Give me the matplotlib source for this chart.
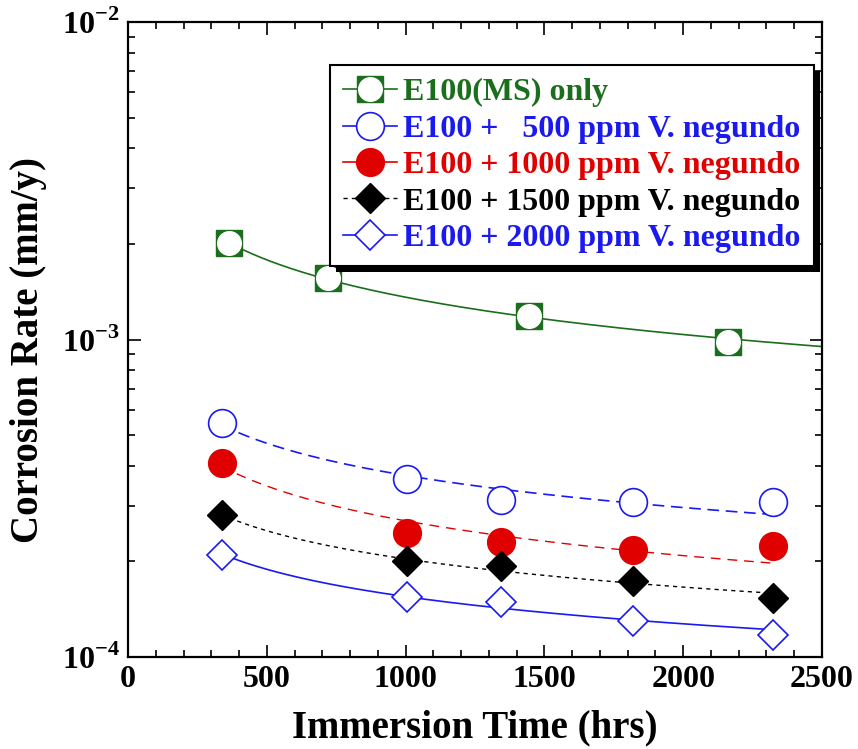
import numpy as np
import matplotlib
matplotlib.use("Agg")
import matplotlib.pyplot as plt
from matplotlib.ticker import MultipleLocator, LogLocator, NullFormatter, FixedLocator
from matplotlib.patches import Rectangle
from matplotlib.lines import Line2D

plt.rcParams['font.family'] = ['Liberation Serif', 'DejaVu Serif']
plt.rcParams['font.weight'] = 'bold'
plt.rcParams['mathtext.fontset'] = 'custom'
plt.rcParams['mathtext.rm'] = 'Liberation Serif:bold'
plt.rcParams['mathtext.bf'] = 'Liberation Serif:bold'

# data
x_ms = [363, 722, 1443, 2163]
y_ms = [2.01e-3, 1.56e-3, 1.19e-3, 0.985e-3]

x_inh = [338, 1005, 1342, 1820, 2325]
y_500 = [5.45e-4, 3.63e-4, 3.12e-4, 3.08e-4, 3.08e-4]
y_1000 = [4.07e-4, 2.45e-4, 2.31e-4, 2.17e-4, 2.23e-4]
y_1500 = [2.80e-4, 2.00e-4, 1.94e-4, 1.73e-4, 1.53e-4]
y_2000 = [2.10e-4, 1.55e-4, 1.49e-4, 1.30e-4, 1.17e-4]

labels = ["E100(MS) only",
          "E100 +   500 ppm V. negundo",
          "E100 + 1000 ppm V. negundo",
          "E100 + 1500 ppm V. negundo",
          "E100 + 2000 ppm V. negundo"]

green = "#1b6e1b"
blue = "#1a1aee"
red = "#e00000"

def powfit(x, y, x0, x1):
    # power law fit y = a*x^b, least squares on y itself (Gauss-Newton)
    x = np.asarray(x, float)
    y = np.asarray(y, float)
    b, la = np.polyfit(np.log(x), np.log(y), 1)
    a = np.exp(la)
    for _ in range(50):
        f = a * x ** b
        J = np.column_stack([x ** b, a * x ** b * np.log(x)])
        step = np.linalg.lstsq(J, y - f, rcond=None)[0]
        a += step[0]
        b += step[1]
    xx = np.linspace(x0, x1, 200)
    return xx, a * xx ** b

fig = plt.figure(figsize=(8.58, 7.49), dpi=100)
ax = fig.add_axes([0.1492, 0.1228, 0.8088, 0.8478])

# fits
xx, yy = powfit(x_ms, y_ms, x_ms[0], 2500)
ax.plot(xx, yy, color=green, lw=1.2, zorder=2)
xx, yy = powfit(x_inh, y_500, x_inh[0], x_inh[-1])
ax.plot(xx, yy, color=blue, lw=1.2, dashes=(7, 4), zorder=2)
xx, yy = powfit(x_inh, y_1000, x_inh[0], x_inh[-1])
ax.plot(xx, yy, color=red, lw=1.0, dashes=(7, 5), zorder=2)
xx, yy = powfit(x_inh, y_1500, x_inh[0], x_inh[-1])
ax.plot(xx, yy, color="black", lw=1.0, dashes=(3, 3), zorder=2)
xx, yy = powfit(x_inh, y_2000, x_inh[0], x_inh[-1])
ax.plot(xx, yy, color=blue, lw=1.2, zorder=2)

# markers
ax.plot(x_ms, y_ms, linestyle="none", marker="s", ms=19, mfc=green, mec=green, zorder=3)
ax.plot(x_ms, y_ms, linestyle="none", marker="o", ms=17, mfc="white", mec="white", zorder=4)
ax.plot(x_inh, y_500, linestyle="none", marker="o", ms=20, mfc="white", mec=blue,
        mew=1.2, zorder=3)
ax.plot(x_inh, y_1000, linestyle="none", marker="o", ms=20, mfc=red, mec=red, zorder=3)
ax.plot(x_inh, y_1500, linestyle="none", marker="D", ms=15, mfc="black", mec="black", zorder=3)
ax.plot(x_inh, y_2000, linestyle="none", marker="D", ms=15, mfc="white", mec=blue,
        mew=1.2, zorder=3)

# legend handles with lines
lg_ms = Line2D([], [], color=green, lw=1.2, marker="s", ms=19, mfc=green, mec=green)
lg_ci = Line2D([], [], linestyle="none", marker="o", ms=17, mfc="white", mec="white")
lg_500 = Line2D([], [], color=blue, lw=1.2, marker="o", ms=20, mfc="white", mec=blue, mew=1.2)
lg_1000 = Line2D([], [], color=red, lw=1.2, marker="o", ms=20, mfc=red, mec=red)
lg_1500 = Line2D([], [], color="black", lw=1.0, dashes=(3, 3), marker="D", ms=15,
                 mfc="black", mec="black")
lg_2000 = Line2D([], [], color=blue, lw=1.2, marker="D", ms=15, mfc="white", mec=blue, mew=1.2)

ax.set_yscale("log")
ax.set_xlim(0, 2500)
ax.set_ylim(1e-4, 1e-2)

ax.xaxis.set_major_locator(MultipleLocator(500))
ax.xaxis.set_minor_locator(MultipleLocator(100))
ax.yaxis.set_major_locator(FixedLocator([1e-4, 1e-3, 1e-2]))
ax.yaxis.set_minor_locator(LogLocator(base=10, subs=np.arange(2, 10)))
ax.yaxis.set_minor_formatter(NullFormatter())
ax.set_yticklabels([r"$10^{-4}$", r"$10^{-3}$", r"$10^{-2}$"])

ax.tick_params(which="both", direction="in", top=True, right=True, width=1.2,
               labelsize=23, colors="black")
ax.tick_params(which="major", length=9, pad=6)
ax.tick_params(which="minor", length=5)
for s in ax.spines.values():
    s.set_linewidth(1.6)

ax.set_xlabel("Immersion Time (hrs)", fontsize=28, fontweight="bold", labelpad=11)
ax.set_ylabel("Corrosion Rate (mm/y)", fontsize=28, fontweight="bold")
ax.yaxis.set_label_coords(-0.117, 0.483)

leg = ax.legend([(lg_ms, lg_ci), lg_500, lg_1000, lg_1500, lg_2000], labels,
                loc="upper left", bbox_to_anchor=(0.291, 0.932), fontsize=23,
                frameon=True, fancybox=False, framealpha=1, edgecolor="black",
                handlelength=1.7, handletextpad=0.2, borderpad=0.4,
                labelspacing=0.22, borderaxespad=0, numpoints=1)
leg.get_frame().set_linewidth(1.5)
leg.set_zorder(6)
cols = [green, blue, red, "black", blue]
for t, c in zip(leg.get_texts(), cols):
    t.set_color(c)

# black drop shadow of legend box
fig.canvas.draw()
bb = leg.get_frame().get_window_extent()
inv = ax.transAxes.inverted()
(x0, y0), (x1, y1) = inv.transform([[bb.x0 + 6, bb.y0 - 6], [bb.x1 + 6, bb.y1 - 6]])
ax.add_patch(Rectangle((x0, y0), x1 - x0, y1 - y0, transform=ax.transAxes,
                       facecolor="black", edgecolor="none", zorder=5.9, clip_on=False))

fig.savefig("out.png", dpi=100)
